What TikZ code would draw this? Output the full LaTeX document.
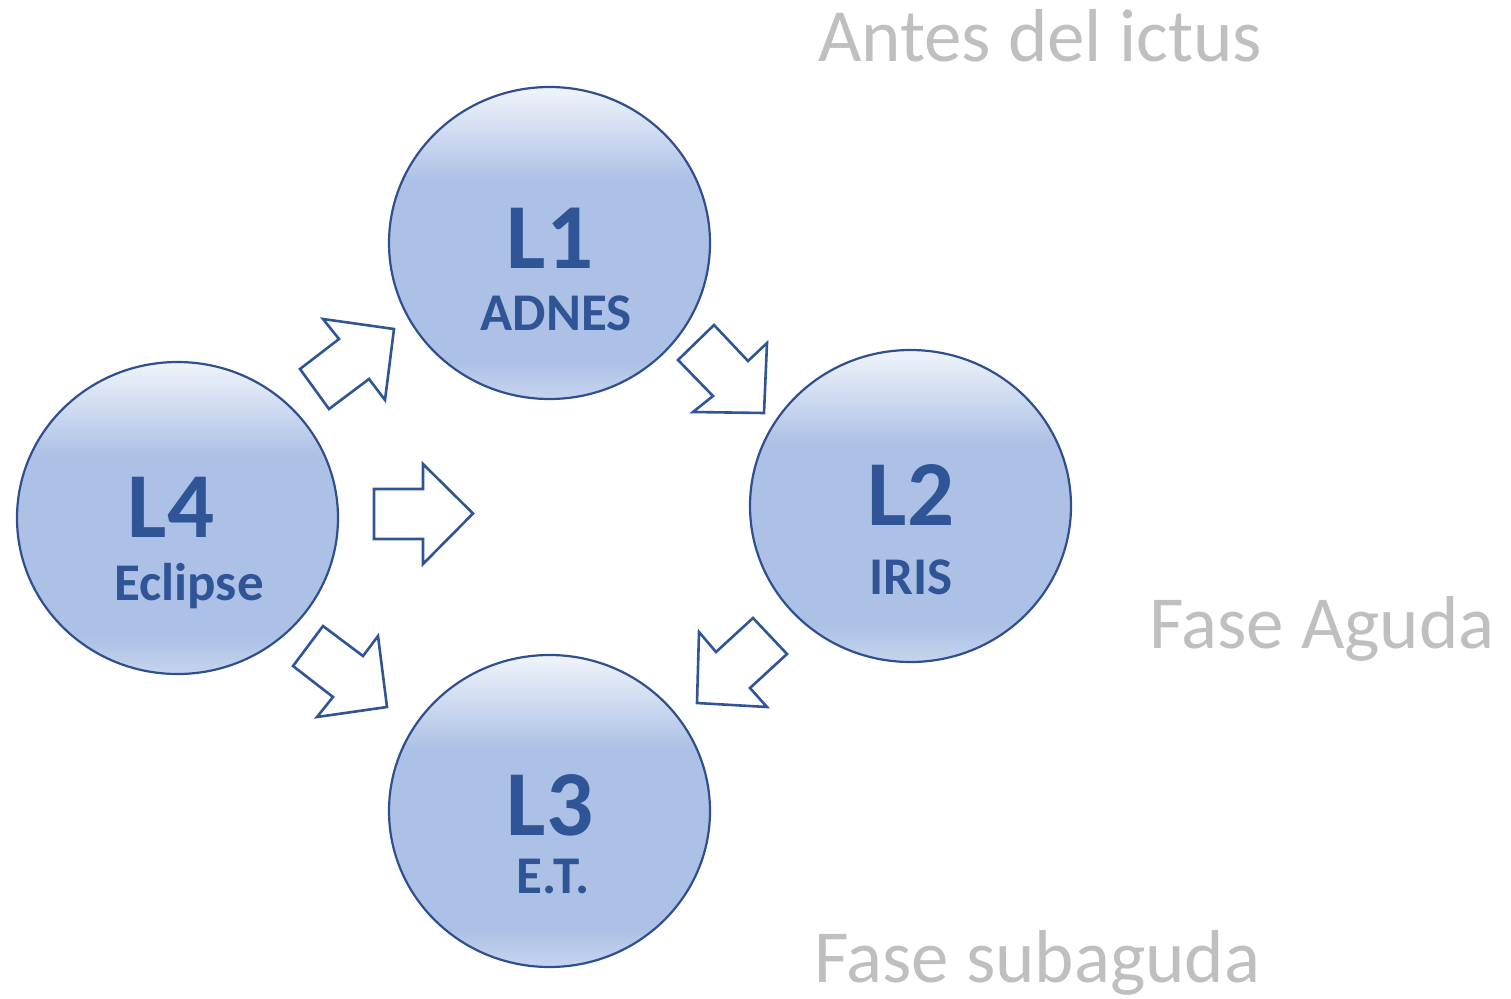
\documentclass[tikz,border=0pt]{standalone}
\usepackage{fontspec}
\setmainfont{Carlito}
\usetikzlibrary{shapes.geometric}
\definecolor{dkblue}{HTML}{2F5597}
\definecolor{circline}{HTML}{2F4F8F}
\definecolor{circmid}{HTML}{ADC1E6}
\definecolor{circtop}{HTML}{F0F4FB}
\definecolor{circbot}{HTML}{C6D4EE}
\definecolor{graytxt}{HTML}{BFBFBF}
\pgfdeclareverticalshading{circshade}{100bp}{color(0bp)=(circbot); color(25bp)=(circbot); color(31bp)=(circmid); color(60bp)=(circmid); color(75bp)=(circtop); color(100bp)=(circtop)}
\tikzset{
  circ/.style={ellipse, draw=circline, line width=2.2pt, shading=circshade,
    minimum width=321pt, minimum height=312pt, inner sep=0pt},
  bigtxt/.style={anchor=base, inner sep=0pt, text=dkblue, font=\bfseries\fontsize{93}{93}\selectfont},
  subtxt/.style={anchor=base, inner sep=0pt, text=dkblue, font=\bfseries\fontsize{53}{53}\selectfont},
  phase/.style={anchor=base west, inner sep=0pt, text=graytxt, font=\fontsize{75}{75}\selectfont},
  blockarrow/.style={draw=dkblue, line width=2.6pt, fill=white, line join=miter}
}
\begin{document}
\begin{tikzpicture}[x=1pt,y=-1pt]
\useasboundingbox (0,0) rectangle (1511,998);
% circles
\node[circ] (L1) at (549.5,243) {};
\node[circ] (L2) at (910.5,506) {};
\node[circ] (L3) at (549.5,811) {};
\node[circ] (L4) at (177.5,518) {};
% texts
\node[bigtxt] (L1a) at (550,268) {L1};
\node[subtxt] (L1b) at (556,330) {ADNES};
\node[bigtxt] (L2a) at (911,525) {L2};
\node[subtxt] (L2b) at (911,594) {IRIS};
\node[bigtxt] (L3a) at (550,835) {L3};
\node[subtxt] (L3b) at (553,893) {E.T.};
\node[bigtxt] (L4a) at (171,537) {L4};
\node[subtxt] (L4b) at (189,600) {Eclipse};
% block arrows
\draw[blockarrow] (323,319) -- (394,329) -- (385,400) -- (369,379) -- (329,409) -- (300,369) -- (339,339) -- cycle;
\draw[blockarrow] (714,325) -- (748,361) -- (767,343) -- (764,413) -- (693,412) -- (713,396) -- (678,360) -- cycle;
\draw[blockarrow] (374,489) -- (423,489) -- (423,464) -- (473,513.5) -- (423,564) -- (423,539) -- (374,539) -- cycle;
\draw[blockarrow] (323,626) -- (363,656) -- (378,636) -- (387,707) -- (317,717) -- (333,697) -- (293,666) -- cycle;
\draw[blockarrow] (753,618) -- (787,654) -- (750,688) -- (767,707) -- (697,703) -- (699,632) -- (716,652) -- cycle;
% phase labels
\node[phase] (p1) at (818,62) {Antes del ictus};
\node[phase] (p2) at (1149,648) {Fase Aguda};
\node[phase] (p3) at (814,982) {Fase subaguda};
\end{tikzpicture}
\end{document}
